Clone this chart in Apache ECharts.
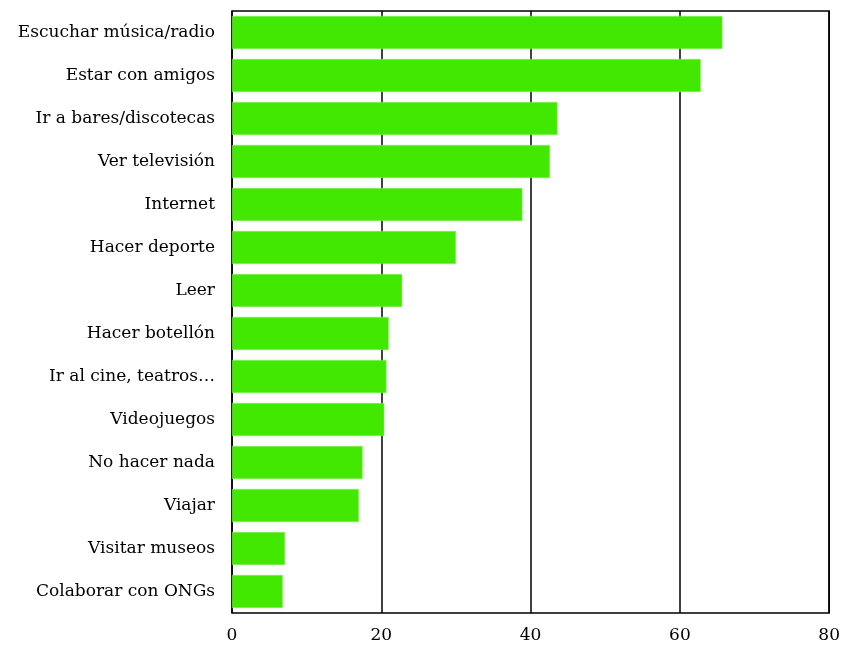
<!DOCTYPE html>
<html>
<head>
<meta charset="utf-8">
<script src="https://cdn.jsdelivr.net/npm/echarts@6/dist/echarts.min.js"></script>
<style>html,body{margin:0;padding:0;background:#fff}#c{width:843px;height:645px}</style>
</head>
<body>
<div id="c"></div>
<script>
const categories = ["Escuchar música/radio","Estar con amigos","Ir a bares/discotecas","Ver televisión","Internet","Hacer deporte","Leer","Hacer botellón","Ir al cine, teatros…","Videojuegos","No hacer nada","Viajar","Visitar museos","Colaborar con ONGs"];
const values = [65.7, 62.8, 43.6, 42.6, 38.9, 30.0, 22.8, 21.0, 20.7, 20.4, 17.5, 17.0, 7.1, 6.8];
const xTicks = [0, 20, 40, 60, 80];

const chart = echarts.init(document.getElementById('c'), null, {renderer: 'canvas'});
const font = '"DejaVu Serif", serif';
chart.setOption({
  animation: false,
  backgroundColor: '#ffffff',
  grid: {left: 232, right: 10, top: 11, bottom: 32, show: true, borderColor: '#000', borderWidth: 1.5, backgroundColor: 'transparent'},
  xAxis: {
    type: 'value', min: xTicks[0], max: xTicks[xTicks.length-1], interval: 20,
    axisLine: {show: false}, axisTick: {show: false},
    splitLine: {show: true, lineStyle: {color: '#000', width: 1.5}},
    axisLabel: {fontFamily: font, fontSize: 17, color: '#000', margin: 14}
  },
  yAxis: {
    type: 'category', data: categories, inverse: true,
    axisLine: {show: false}, axisTick: {show: false},
    axisLabel: {fontFamily: font, fontSize: 17, color: '#000', margin: 17}
  },
  series: [{
    type: 'bar', data: values, barCategoryGap: '23%',
    itemStyle: {color: '#43e800', borderColor: '#8ef06a', borderWidth: 0.5}
  }]
});
</script>
</body>
</html>
